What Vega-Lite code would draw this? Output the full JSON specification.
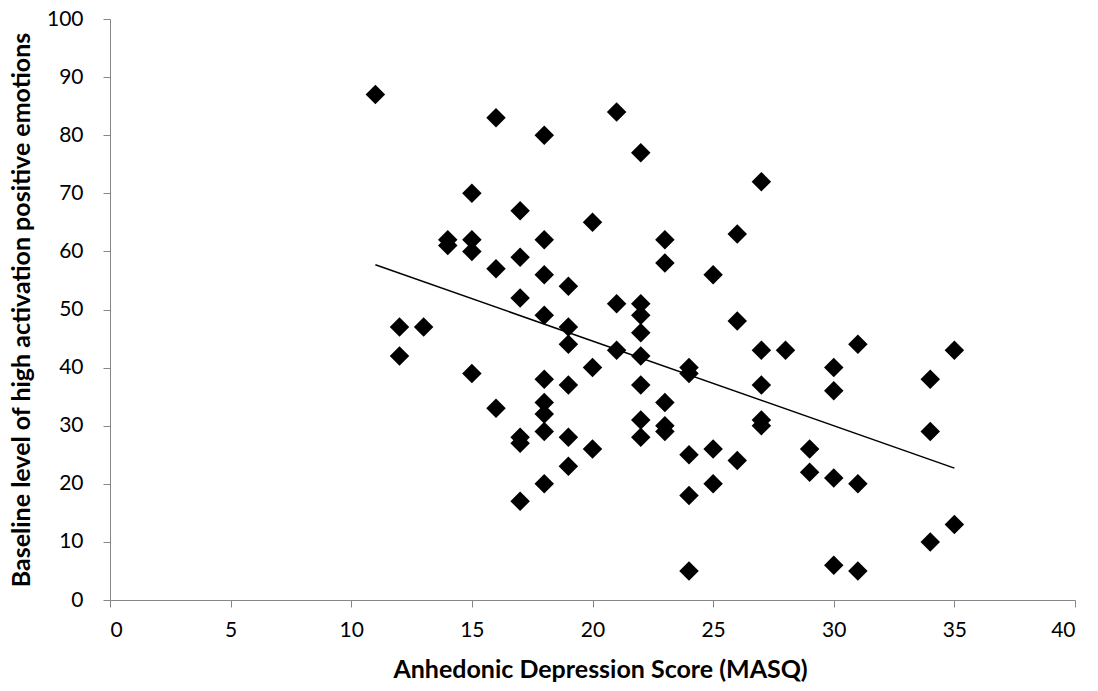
{
  "$schema": "https://vega.github.io/schema/vega-lite/v6.json",
  "width": 965,
  "height": 581,
  "autosize": {"type": "none"},
  "padding": {"left": 110, "top": 19, "right": 23, "bottom": 91},
  "background": "white",
  "config": {
    "view": {"stroke": null},
    "font": "Lato"
  },
  "data": {
    "values": [
      {"x": 11, "y": 87}, {"x": 12, "y": 47}, {"x": 12, "y": 42}, {"x": 13, "y": 47},
      {"x": 14, "y": 62}, {"x": 14, "y": 61}, {"x": 15, "y": 70}, {"x": 15, "y": 62},
      {"x": 15, "y": 60}, {"x": 15, "y": 39}, {"x": 16, "y": 83}, {"x": 16, "y": 57},
      {"x": 16, "y": 33}, {"x": 17, "y": 67}, {"x": 17, "y": 59}, {"x": 17, "y": 52},
      {"x": 17, "y": 28}, {"x": 17, "y": 27}, {"x": 17, "y": 17}, {"x": 18, "y": 80},
      {"x": 18, "y": 62}, {"x": 18, "y": 56}, {"x": 18, "y": 49}, {"x": 18, "y": 38},
      {"x": 18, "y": 34}, {"x": 18, "y": 32}, {"x": 18, "y": 29}, {"x": 18, "y": 20},
      {"x": 19, "y": 54}, {"x": 19, "y": 47}, {"x": 19, "y": 44}, {"x": 19, "y": 37},
      {"x": 19, "y": 28}, {"x": 19, "y": 23}, {"x": 20, "y": 65}, {"x": 20, "y": 40},
      {"x": 20, "y": 26}, {"x": 21, "y": 84}, {"x": 21, "y": 51}, {"x": 21, "y": 43},
      {"x": 22, "y": 77}, {"x": 22, "y": 51}, {"x": 22, "y": 49}, {"x": 22, "y": 46},
      {"x": 22, "y": 42}, {"x": 22, "y": 37}, {"x": 22, "y": 31}, {"x": 22, "y": 28},
      {"x": 23, "y": 62}, {"x": 23, "y": 58}, {"x": 23, "y": 34}, {"x": 23, "y": 30},
      {"x": 23, "y": 29}, {"x": 24, "y": 40}, {"x": 24, "y": 39}, {"x": 24, "y": 25},
      {"x": 24, "y": 18}, {"x": 24, "y": 5}, {"x": 25, "y": 56}, {"x": 25, "y": 26},
      {"x": 25, "y": 20}, {"x": 26, "y": 63}, {"x": 26, "y": 48}, {"x": 26, "y": 24},
      {"x": 27, "y": 72}, {"x": 27, "y": 43}, {"x": 27, "y": 37}, {"x": 27, "y": 31},
      {"x": 27, "y": 30}, {"x": 28, "y": 43}, {"x": 29, "y": 26}, {"x": 29, "y": 22},
      {"x": 30, "y": 40}, {"x": 30, "y": 36}, {"x": 30, "y": 21}, {"x": 30, "y": 6},
      {"x": 31, "y": 44}, {"x": 31, "y": 20}, {"x": 31, "y": 5}, {"x": 34, "y": 38},
      {"x": 34, "y": 29}, {"x": 34, "y": 10}, {"x": 35, "y": 43}, {"x": 35, "y": 13}
    ]
  },
  "layer": [
    {
      "mark": {"type": "point", "shape": "diamond", "filled": true, "size": 380, "color": "#000000", "opacity": 1},
      "encoding": {
        "x": {
          "field": "x", "type": "quantitative",
          "scale": {"domain": [0, 40], "nice": false, "zero": false},
          "axis": {
            "values": [0, 5, 10, 15, 20, 25, 30, 35, 40],
            "title": "Anhedonic Depression Score (MASQ)",
            "grid": false, "domainColor": "#868686", "tickColor": "#868686", "tickSize": 7,
            "labelFont": "Lato", "labelFontSize": 21, "labelColor": "#000000", "labelPadding": 12,
            "titleFont": "Lato", "titleFontSize": 25, "titleFontWeight": "bold", "titleColor": "#000000",
            "titlePadding": 17, "titleX": 490
          }
        },
        "y": {
          "field": "y", "type": "quantitative",
          "scale": {"domain": [0, 100], "nice": false},
          "axis": {
            "values": [0, 10, 20, 30, 40, 50, 60, 70, 80, 90, 100],
            "title": "Baseline level of high activation positive emotions",
            "grid": false, "domainColor": "#868686", "tickColor": "#868686", "tickSize": 7,
            "labelFont": "Lato", "labelFontSize": 21, "labelColor": "#000000", "labelPadding": 20,
            "titleFont": "Lato", "titleFontSize": 25, "titleFontWeight": "bold", "titleColor": "#000000",
            "titlePadding": 12
          }
        }
      }
    },
    {
      "transform": [{"regression": "y", "on": "x"}],
      "mark": {"type": "line", "color": "#000000", "strokeWidth": 1.5},
      "encoding": {
        "x": {"field": "x", "type": "quantitative"},
        "y": {"field": "y", "type": "quantitative"}
      }
    }
  ]
}
